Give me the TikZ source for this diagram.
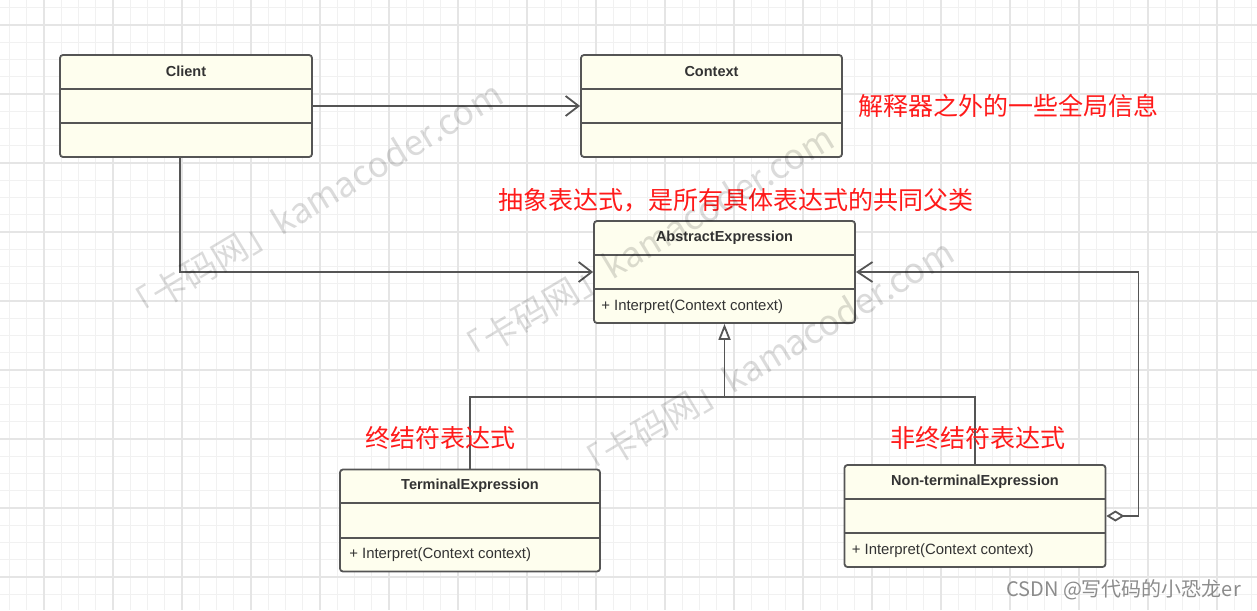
\documentclass[tikz,border=0pt]{standalone}
\usepackage{fontspec}
\setmainfont{Liberation Sans}
\newfontfamily\cjk{Noto Sans CJK SC}
\usetikzlibrary{arrows.meta,calc}

\definecolor{boxfill}{HTML}{FEFEEE}
\definecolor{boxline}{HTML}{555555}
\definecolor{gridminor}{HTML}{F1F1F1}
\definecolor{gridmajor}{HTML}{E5E5E5}
\definecolor{notered}{HTML}{FF1A1A}

% class box with three rows: name, attributes, operations
\newcommand{\umlclass}[4]{%
  \node[classbox, minimum width=#3] (#1) at (#2) {};
  \draw[rowsep] ($(#1.north west)!1/3!(#1.south west)$) -- ($(#1.north east)!1/3!(#1.south east)$);
  \draw[rowsep] ($(#1.north west)!2/3!(#1.south west)$) -- ($(#1.north east)!2/3!(#1.south east)$);
  \node[classname] (#1-name) at ($(#1.north)!1/6!(#1.south)$) {#4};
}

\begin{document}
\begin{tikzpicture}[x=1pt,y=-1pt,
    classbox/.style={draw=boxline, fill=boxfill, line width=1.8pt, rounded corners=3pt, minimum height=102pt, inner sep=0pt},
    rowsep/.style={draw=boxline, line width=1.8pt},
    classname/.style={font=\fontsize{14.5}{17}\selectfont\bfseries, text=black!80},
    classop/.style={font=\fontsize{14.9}{17}\selectfont, text=black!80, anchor=west, inner sep=0pt},
    note/.style={font=\cjk\fontsize{25}{30}\selectfont, text=notered, anchor=west, inner sep=0pt},
    link/.style={draw=boxline, line width=1.8pt},
    assoc/.style={link, -{Straight Barb[length=13pt, width=20pt]}},
    inherit/.style={link, -{Triangle[open, length=16pt, width=12pt]}},
    aggr/.style={link, {Diamond[open, length=18pt, width=11pt]}-{Straight Barb[length=15pt, width=20pt]}},
    watermark/.style={font=\cjk\fontsize{35}{40}\selectfont, text=black, opacity=0.14, rotate=31}]

    \useasboundingbox (0,0) rectangle (1257,610);
    \fill[white] (0,0) rectangle (1257,610);

    % grid
    \foreach \i in {0,...,72} \draw[gridminor, line width=1.3pt] ({9.5+17.25*\i},0) -- ++(0,610);
    \foreach \j in {0,...,35} \draw[gridminor, line width=1.3pt] (0,{7.75+17.25*\j}) -- ++(1257,0);
    \foreach \i in {0,...,17} \draw[gridmajor, line width=1.8pt] ({44+69*\i},0) -- ++(0,610);
    \foreach \j in {0,...,8} \draw[gridmajor, line width=1.8pt] (0,{25+69*\j}) -- ++(1257,0);

    % classes
    \umlclass{client}{186,106}{252pt}{Client}
    \umlclass{context}{711.5,106}{261pt}{Context}
    \umlclass{abstract}{724.5,272}{261pt}{AbstractExpression}
    \umlclass{terminal}{470,520.5}{260pt}{TerminalExpression}
    \umlclass{nonterm}{975,516}{261pt}{Non-terminalExpression}

    \node[classop] (abstract-op) at ($(abstract.north west)!5/6!(abstract.south west)+(8,0)$) {+ Interpret(Context context)};
    \node[classop] (terminal-op) at ($(terminal.north west)!5/6!(terminal.south west)+(10,0)$) {+ Interpret(Context context)};
    \node[classop] (nonterm-op) at ($(nonterm.north west)!5/6!(nonterm.south west)+(8,0)$) {+ Interpret(Context context)};

    % relations
    \draw[assoc] (client.east) -- (context.west);
    \draw[assoc] ([xshift=-6pt]client.south) |- (abstract.west);
    \coordinate (join) at (abstract.south |- 0,397);
    \draw[inherit] (join) -- (abstract.south);
    \draw[link] (terminal.north) |- (join) -| (nonterm.north);
    \draw[aggr] (nonterm.east) -- ++(32,0) |- (abstract.east);

    % notes
    \node[note] (context-note) at (858,106) {解释器之外的一些全局信息};
    \node[note] (abstract-note) at (498,200) {抽象表达式，是所有具体表达式的共同父类};
    \node[note] (terminal-note) at (365,438) {终结符表达式};
    \node[note] (nonterm-note) at (890,438) {非终结符表达式};

    % watermarks
    \node[watermark] (wm1) at (312,203) {「卡码网」kamacoder.com};
    \node[watermark] (wm2) at (643,247) {「卡码网」kamacoder.com};
    \node[watermark] (wm3) at (763,361) {「卡码网」kamacoder.com};
    \node[font=\cjk\fontsize{20}{24}\selectfont, text=black!45, anchor=east, inner sep=0pt] (csdn) at (1241,590) {CSDN @写代码的小恐龙er};
\end{tikzpicture}
\end{document}
